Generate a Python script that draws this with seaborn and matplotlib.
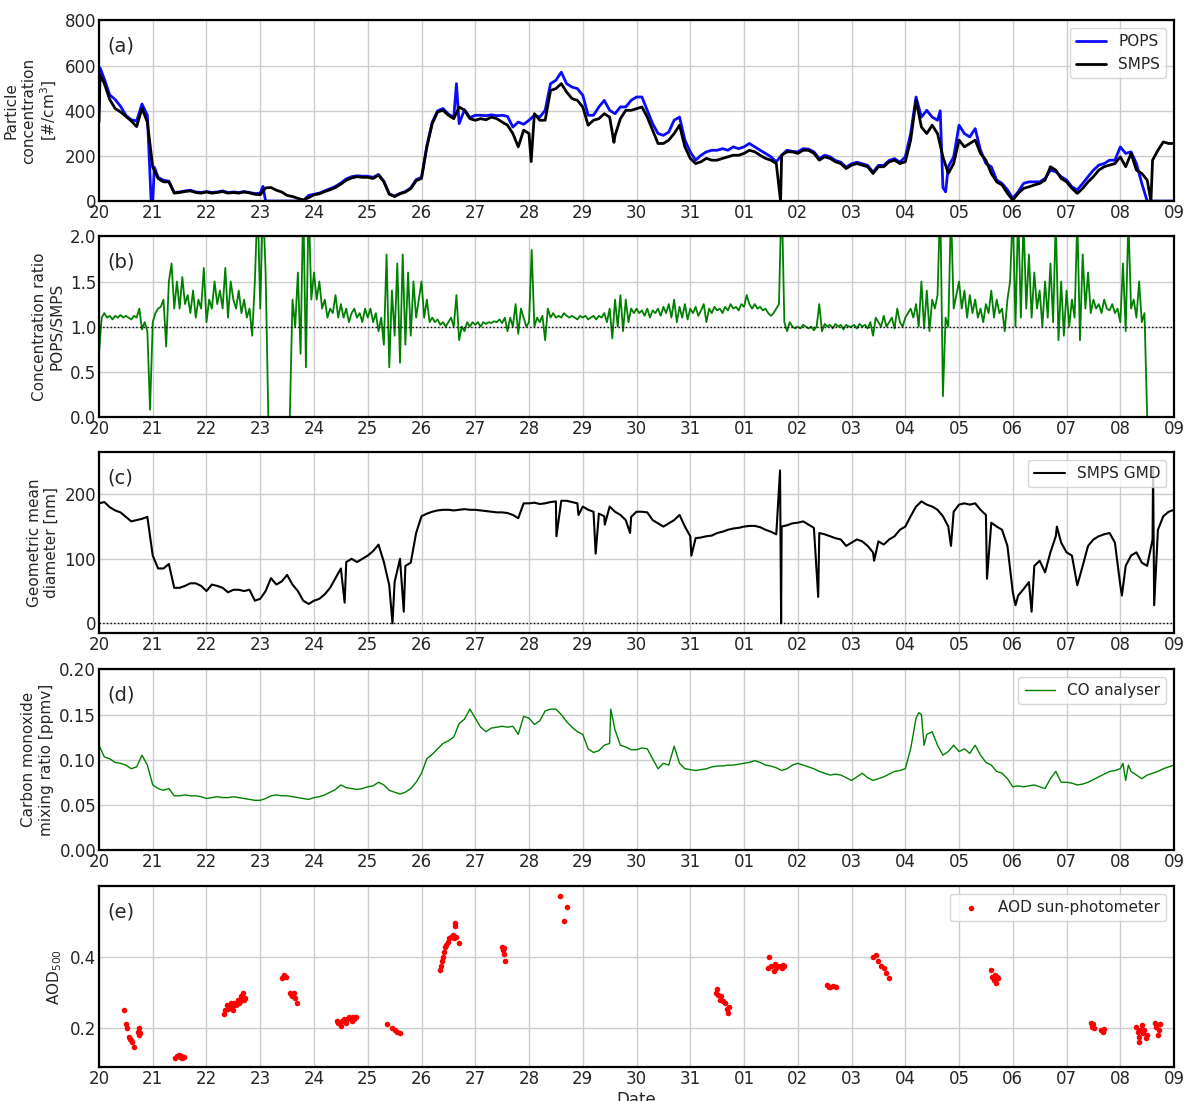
import numpy as np
import pandas as pd
import matplotlib
matplotlib.use("Agg")
import matplotlib.pyplot as plt
import matplotlib.dates as mdates
import seaborn as sns

start = pd.Timestamp("2019-08-20")

# (a) particle number concentration [#/cm3], one value every 0.1 day from 20 Aug
smps_conc = [
    350, 520, 450, 410, 395, 375, 355, 330, 410, 350,   # 20
    150, 100, 85, 85, 35, 38, 42, 45, 38, 35,           # 21
    40, 35, 38, 42, 35, 38, 35, 40, 36, 30,             # 22
    28, 58, 60, 48, 40, 25, 20, 12, 5, 15,              # 23
    28, 32, 42, 50, 60, 75, 92, 102, 108, 105,          # 24
    105, 100, 115, 85, 30, 20, 32, 40, 55, 90,          # 25
    100, 240, 343, 395, 402, 380, 365, 417, 402, 365,   # 26
    358, 365, 360, 372, 365, 350, 336, 299, 240, 314,   # 27
    299, 387, 358, 358, 490, 498, 520, 483, 454, 446,   # 28
    417, 336, 358, 365, 387, 372, 290, 365, 402, 402,   # 29
    409, 417, 372, 314, 255, 255, 270, 299, 336, 240,   # 30
    189, 166, 174, 189, 181, 181, 189, 196, 203, 203,   # 31
    211, 225, 218, 203, 189, 181, 166, 203, 218, 218,   # 01
    211, 225, 225, 211, 181, 196, 189, 174, 166, 144,   # 02
    159, 166, 159, 152, 122, 152, 152, 174, 181, 166,   # 03
    174, 270, 446, 328, 299, 336, 299, 196, 122, 166,   # 04
    270, 240, 255, 270, 211, 181, 122, 85, 71, 34,      # 05
    4, 34, 56, 63, 71, 78, 93, 152, 137, 100,           # 06
    85, 56, 34, 56, 85, 108, 137, 152, 159, 166,        # 07
    196, 152, 211, 137, 122, 93, 181, 225, 262, 255,    # 08
    255,
]
smps_spike_t = [0.02, 8.04, 9.58, 12.68, 19.57]
smps_spike_v = [560, 175, 260, 0, 0]

pops_conc = [
    400, 540, 470, 450, 420, 380, 360, 355, 430, 380,   # 20
    0, 105, 92, 88, 38, 40, 45, 48, 40, 38,             # 21
    42, 38, 40, 45, 38, 40, 38, 42, 38, 33,             # 22
    35, 0, 0, 0, 0, 0, 0, 0, 0, 25,                     # 23
    30, 35, 45, 55, 65, 80, 98, 108, 112, 110,          # 24
    110, 105, 118, 88, 32, 22, 34, 42, 58, 95,          # 25
    105, 245, 350, 400, 410, 385, 370, 343, 405, 370,   # 26
    380, 380, 378, 382, 378, 380, 375, 328, 350, 340,   # 27
    358, 380, 372, 402, 520, 535, 571, 520, 505, 498,   # 28
    469, 380, 380, 417, 446, 402, 387, 417, 417, 446,   # 29
    461, 461, 402, 343, 299, 291, 306, 358, 372, 270,   # 30
    218, 181, 203, 218, 225, 225, 232, 225, 240, 232,   # 31
    240, 255, 240, 225, 211, 196, 174, 203, 225, 220,   # 01
    218, 232, 230, 218, 188, 203, 196, 180, 172, 150,   # 02
    165, 172, 165, 158, 128, 158, 158, 180, 188, 172,   # 03
    196, 299, 461, 372, 402, 372, 358, 60, 152, 196,    # 04
    336, 299, 284, 321, 225, 166, 152, 93, 78, 50,      # 05
    12, 41, 78, 85, 85, 85, 100, 137, 130, 108,         # 06
    93, 63, 49, 78, 108, 137, 159, 166, 181, 181,       # 07
    240, 211, 218, 166, 78, 0, 0, 0, 0, 0,              # 08
    0,
]
pops_spike_t = [0.02, 0.97, 1.03, 3.05, 6.65, 15.65, 15.75]
pops_spike_v = [590, 0, 150, 65, 520, 400, 41]

# (b) POPS/SMPS ratio, one value every 0.05 day
ratio = [
    0.70, 1.10, 1.15, 1.10, 1.12, 1.08, 1.12, 1.10, 1.13, 1.10, 1.12, 1.10, 1.08, 1.12, 1.10, 1.20, 0.97, 1.05, 0.95, 0.08,  # 20
    1.05, 1.15, 1.20, 1.22, 1.30, 0.78, 1.50, 1.70, 1.20, 1.50, 1.20, 1.55, 1.25, 1.35, 1.15, 1.40, 1.10, 1.30, 1.20, 1.65,  # 21
    1.05, 1.30, 1.20, 1.50, 1.25, 1.40, 1.20, 1.65, 1.10, 1.50, 1.30, 1.20, 1.40, 1.15, 1.30, 1.10, 1.20, 0.90, 1.50, 2.40,  # 22
    1.20, 2.40, 1.60, 0.00, 0.00, 0.00, 0.00, 0.00, 0.00, 0.00, 0.00, 0.00, 1.30, 1.00, 1.60, 0.70, 2.40, 0.55, 2.40, 1.30,  # 23
    1.60, 1.30, 1.50, 1.20, 1.30, 1.10, 1.20, 1.15, 1.35, 1.10, 1.25, 1.10, 1.20, 1.05, 1.15, 1.20, 1.10, 1.15, 1.05, 1.20,  # 24
    1.10, 1.20, 1.05, 1.15, 0.95, 1.10, 0.80, 1.80, 0.55, 1.40, 0.90, 1.70, 0.60, 1.80, 0.80, 1.60, 0.90, 1.50, 1.10, 1.30,  # 25
    1.50, 1.10, 1.30, 1.05, 1.10, 1.05, 1.08, 1.02, 1.05, 1.00, 1.05, 1.10, 1.00, 1.35, 0.85, 1.00, 0.95, 1.05, 1.00, 1.05,  # 26
    1.02, 1.05, 1.00, 1.05, 1.03, 1.05, 1.04, 1.06, 1.05, 1.08, 1.04, 1.10, 0.95, 1.10, 1.00, 1.25, 0.92, 1.20, 1.10, 1.00,  # 27
    1.05, 1.85, 1.00, 1.10, 1.05, 1.12, 0.85, 1.20, 1.10, 1.15, 1.10, 1.12, 1.10, 1.15, 1.12, 1.10, 1.12, 1.10, 1.08, 1.12,  # 28
    1.10, 1.12, 1.08, 1.10, 1.12, 1.08, 1.12, 1.10, 1.15, 1.05, 1.20, 0.87, 1.30, 1.00, 1.35, 0.95, 1.30, 1.05, 1.20, 1.15,  # 29
    1.20, 1.15, 1.18, 1.12, 1.20, 1.10, 1.18, 1.15, 1.20, 1.12, 1.22, 1.15, 1.25, 1.10, 1.30, 1.05, 1.22, 1.10, 1.25, 1.08,  # 30
    1.20, 1.15, 1.22, 1.12, 1.18, 1.25, 1.05, 1.20, 1.15, 1.22, 1.18, 1.20, 1.15, 1.22, 1.18, 1.25, 1.20, 1.22, 1.18, 1.25,  # 31
    1.22, 1.35, 1.25, 1.20, 1.25, 1.20, 1.22, 1.18, 1.20, 1.15, 1.12, 1.15, 1.20, 1.25, 2.50, 1.05, 0.95, 1.05, 1.00, 0.98,  # 01
    1.00, 0.98, 1.02, 1.00, 0.98, 1.00, 0.96, 1.00, 1.25, 0.95, 1.03, 1.00, 1.02, 0.98, 1.03, 1.00, 1.02, 0.97, 1.02, 1.00,  # 02
    1.00, 1.02, 0.98, 1.03, 1.00, 1.02, 0.98, 1.05, 0.90, 1.10, 1.05, 1.00, 1.12, 1.00, 1.05, 1.10, 0.98, 1.20, 1.05, 1.00,  # 03
    1.10, 1.15, 1.20, 1.10, 1.25, 1.00, 1.50, 0.98, 1.40, 0.95, 1.30, 1.20, 1.35, 2.40, 0.23, 1.10, 1.00, 2.30, 1.20, 1.35,  # 04
    1.50, 1.20, 1.40, 1.10, 1.35, 1.15, 1.30, 1.10, 1.20, 1.05, 1.25, 1.15, 1.40, 1.10, 1.30, 1.15, 1.20, 0.95, 1.30, 1.50,  # 05
    2.30, 1.00, 2.30, 1.10, 2.20, 1.20, 1.80, 1.10, 1.60, 1.20, 1.40, 1.00, 1.50, 1.10, 1.70, 1.05, 2.20, 0.85, 1.50, 0.90,  # 06
    1.40, 1.00, 1.30, 1.10, 2.20, 0.85, 1.80, 1.20, 1.60, 1.15, 1.30, 1.20, 1.25, 1.15, 1.30, 1.20, 1.18, 1.25, 1.15, 1.20,  # 07
    1.05, 1.70, 0.95, 2.20, 1.20, 1.30, 1.10, 1.50, 1.05, 1.15, 0.00,                                                      # 08
]

# (c) SMPS geometric mean diameter [nm], every 0.1 day
gmd = [
    186, 188, 180, 175, 172, 165, 158, 160, 162, 165,   # 20
    105, 85, 85, 92, 55, 55, 58, 62, 62, 58,            # 21
    50, 60, 58, 55, 48, 52, 52, 50, 52, 35,             # 22
    38, 50, 70, 60, 65, 75, 60, 50, 35, 30,             # 23
    35, 38, 45, 55, 70, 85, 95, 100, 95, 100,           # 24
    105, 112, 122, 95, 59, 64, 100, 89, 94, 140,        # 25
    166, 170, 173, 175, 176, 176, 175, 176, 177, 176,   # 26
    176, 175, 174, 173, 172, 172, 171, 168, 163, 186,   # 27
    186, 187, 185, 186, 188, 189, 190, 190, 188, 186,   # 28
    181, 176, 173, 170, 166, 181, 173, 168, 160, 165,   # 29
    173, 173, 172, 160, 155, 150, 155, 160, 168, 150,   # 30
    135, 132, 133, 135, 136, 140, 142, 145, 147, 148,   # 31
    150, 151, 151, 149, 145, 142, 138, 150, 152, 155,   # 01
    156, 158, 153, 148, 140, 138, 135, 132, 130, 120,   # 02
    125, 130, 127, 120, 110, 127, 122, 130, 135, 145,   # 03
    150, 166, 181, 189, 184, 181, 176, 166, 150, 173,   # 04
    184, 186, 184, 186, 176, 168, 156, 150, 145, 120,   # 05
    48, 43, 53, 64, 89, 97, 79, 110, 135, 125,          # 06
    110, 105, 59, 89, 120, 130, 135, 138, 140, 125,     # 07
    59, 89, 105, 110, 94, 89, 130, 145, 166, 173,       # 08
    176,
]
gmd_spike_t = [4.57, 5.46, 5.67, 8.51, 8.92, 9.24, 9.41, 9.88, 11.02, 12.67, 12.69,
               13.38, 14.42, 15.85, 16.52, 17.05, 17.35, 17.82, 19.03, 19.61, 19.63]
gmd_spike_v = [32, 0, 18, 135, 168, 108, 153, 140, 105, 237, 0,
               41, 97, 120, 69, 28, 18, 150, 43, 240, 28]

# (d) CO mixing ratio [ppmv], every 0.1 day
co = [
    0.116, 0.103, 0.101, 0.097, 0.096, 0.094, 0.090, 0.092, 0.105, 0.094,  # 20
    0.072, 0.068, 0.066, 0.068, 0.060, 0.060, 0.061, 0.060, 0.060, 0.059,  # 21
    0.057, 0.058, 0.059, 0.058, 0.058, 0.059, 0.058, 0.057, 0.056, 0.055,  # 22
    0.055, 0.057, 0.060, 0.061, 0.060, 0.060, 0.059, 0.058, 0.057, 0.056,  # 23
    0.058, 0.059, 0.061, 0.064, 0.067, 0.072, 0.069, 0.068, 0.067, 0.068,  # 24
    0.070, 0.071, 0.075, 0.072, 0.066, 0.064, 0.062, 0.064, 0.068, 0.075,  # 25
    0.085, 0.101, 0.106, 0.112, 0.118, 0.121, 0.125, 0.140, 0.145, 0.156,  # 26
    0.146, 0.136, 0.131, 0.135, 0.136, 0.137, 0.136, 0.137, 0.128, 0.148,  # 27
    0.146, 0.139, 0.143, 0.154, 0.156, 0.156, 0.150, 0.142, 0.136, 0.131,  # 28
    0.128, 0.112, 0.108, 0.110, 0.116, 0.118, 0.133, 0.116, 0.114, 0.111,  # 29
    0.111, 0.113, 0.112, 0.101, 0.090, 0.096, 0.094, 0.115, 0.096, 0.090,  # 30
    0.089, 0.088, 0.089, 0.090, 0.092, 0.093, 0.093, 0.094, 0.094, 0.095,  # 31
    0.096, 0.097, 0.099, 0.097, 0.094, 0.093, 0.091, 0.088, 0.090, 0.094,  # 01
    0.096, 0.094, 0.092, 0.090, 0.087, 0.085, 0.083, 0.084, 0.083, 0.080,  # 02
    0.077, 0.081, 0.085, 0.080, 0.077, 0.079, 0.081, 0.084, 0.087, 0.088,  # 03
    0.090, 0.112, 0.146, 0.150, 0.128, 0.131, 0.116, 0.105, 0.109, 0.116,  # 04
    0.109, 0.112, 0.107, 0.116, 0.105, 0.097, 0.094, 0.087, 0.085, 0.079,  # 05
    0.070, 0.071, 0.070, 0.071, 0.072, 0.070, 0.068, 0.079, 0.087, 0.075,  # 06
    0.075, 0.074, 0.072, 0.073, 0.075, 0.078, 0.081, 0.084, 0.087, 0.088,  # 07
    0.090, 0.077, 0.087, 0.083, 0.079, 0.083, 0.085, 0.087, 0.090, 0.092,  # 08
    0.094,
]
co_spike_t = [9.52, 15.25, 15.35, 19.05, 19.15]
co_spike_v = [0.156, 0.152, 0.116, 0.096, 0.094]

# (e) AOD at 500 nm, time in days since 20 Aug
aod_t = [0.47, 0.50, 0.52, 0.55, 0.58, 0.60, 0.62, 0.65, 0.72, 0.74, 0.75, 0.76,
         1.42, 1.45, 1.48, 1.50, 1.52, 1.55, 1.58,
         2.32, 2.35, 2.38, 2.40, 2.42, 2.45, 2.48, 2.50, 2.52, 2.55, 2.58, 2.60, 2.62, 2.65, 2.68, 2.70, 2.72,
         3.40, 3.42, 3.45, 3.48, 3.55, 3.58, 3.60, 3.62, 3.65, 3.68,
         4.42, 4.45, 4.50, 4.52, 4.55, 4.60, 4.62, 4.65, 4.70, 4.72, 4.75, 4.78,
         5.35, 5.45, 5.50, 5.55, 5.60,
         6.35, 6.37, 6.38, 6.40, 6.42, 6.44, 6.46, 6.50, 6.52, 6.55, 6.58, 6.60, 6.62, 6.63, 6.65, 6.70,
         7.50, 7.52, 7.53, 7.54, 7.55,
         8.58, 8.65, 8.70,
         11.48, 11.50, 11.52, 11.55, 11.58, 11.60, 11.65, 11.68, 11.70, 11.72,
         12.45, 12.47, 12.50, 12.55, 12.57, 12.60, 12.65, 12.70, 12.72, 12.75,
         13.55, 13.58, 13.60, 13.65, 13.72,
         14.40, 14.45, 14.50, 14.55, 14.60, 14.65, 14.70,
         16.60, 16.62, 16.65, 16.67, 16.68, 16.70, 16.72,
         18.45, 18.48, 18.50, 18.52, 18.65, 18.68, 18.70,
         19.30, 19.32, 19.34, 19.35, 19.37, 19.40, 19.42, 19.45, 19.47, 19.50, 19.65, 19.67, 19.70, 19.72, 19.73]
aod_v = [0.251, 0.21, 0.20, 0.175, 0.17, 0.165, 0.16, 0.147, 0.19, 0.20, 0.18, 0.185,
         0.115, 0.12, 0.125, 0.118, 0.12, 0.115, 0.118,
         0.24, 0.25, 0.265, 0.255, 0.26, 0.27, 0.26, 0.25, 0.27, 0.265, 0.28, 0.27, 0.275, 0.29, 0.30, 0.28, 0.285,
         0.34, 0.345, 0.35, 0.345, 0.30, 0.295, 0.29, 0.30, 0.285, 0.27,
         0.22, 0.215, 0.205, 0.22, 0.225, 0.215, 0.225, 0.23, 0.22, 0.23, 0.225, 0.23,
         0.21, 0.20, 0.195, 0.19, 0.185,
         0.364, 0.374, 0.388, 0.402, 0.416, 0.43, 0.435, 0.444, 0.454, 0.458, 0.464, 0.454, 0.496, 0.487, 0.458, 0.44,
         0.43, 0.42, 0.41, 0.425, 0.39,
         0.574, 0.503, 0.542,
         0.30, 0.31, 0.293, 0.28, 0.29, 0.275, 0.27, 0.255, 0.242, 0.26,
         0.369, 0.40, 0.374, 0.36, 0.38, 0.37, 0.374, 0.37, 0.378, 0.374,
         0.322, 0.315, 0.317, 0.318, 0.317,
         0.40, 0.405, 0.388, 0.374, 0.37, 0.355, 0.34,
         0.364, 0.345, 0.336, 0.35, 0.328, 0.345, 0.34,
         0.213, 0.204, 0.21, 0.20, 0.194, 0.19, 0.196,
         0.204, 0.19, 0.175, 0.161, 0.195, 0.208, 0.185, 0.194, 0.171, 0.18, 0.213, 0.204, 0.18, 0.195, 0.21]


def series(step, values, extra_t=(), extra_v=()):
    t = list(np.arange(len(values)) * step) + list(extra_t)
    v = list(values) + list(extra_v)
    df = pd.DataFrame({"t": t, "v": v}).sort_values("t")
    df["time"] = start + pd.to_timedelta(df["t"], unit="D")
    return df


smps_df = series(0.1, smps_conc, smps_spike_t, smps_spike_v)
pops_df = series(0.1, pops_conc, pops_spike_t, pops_spike_v)
ratio_df = series(0.05, ratio)
gmd_df = series(0.1, gmd, gmd_spike_t, gmd_spike_v)
co_df = series(0.1, co, co_spike_t, co_spike_v)
aod_df = pd.DataFrame({"time": start + pd.to_timedelta(aod_t, unit="D"), "v": aod_v})

sns.set_style("whitegrid", {"axes.edgecolor": "black", "grid.color": "0.8"})
plt.rcParams["font.family"] = ["DejaVu Sans"]

fig = plt.figure(figsize=(11.84, 11.01), dpi=100)
left, width, height = 0.0836, 0.9080, 0.1640
bottoms = [0.8174, 0.6213, 0.4251, 0.2280, 0.0309]
axes = [fig.add_axes([left, b, width, height]) for b in bottoms]
ax_a, ax_b, ax_c, ax_d, ax_e = axes

kw = dict(estimator=None, sort=False)
sns.lineplot(data=pops_df, x="time", y="v", ax=ax_a, color="#0a0aff", lw=2, label="POPS", **kw)
sns.lineplot(data=smps_df, x="time", y="v", ax=ax_a, color="black", lw=2, label="SMPS", **kw)
ax_a.set_ylim(0, 800)
ax_a.set_yticks([0, 200, 400, 600, 800])
ax_a.set_ylabel("Particle\nconcentration\n[#/cm$^3$]")

sns.lineplot(data=ratio_df, x="time", y="v", ax=ax_b, color="green", lw=1.3, **kw)
ax_b.axhline(1.0, color="black", ls=":", lw=1)
ax_b.set_ylim(0, 2)
ax_b.set_yticks([0, 0.5, 1.0, 1.5, 2.0])
ax_b.set_yticklabels(["0.0", "0.5", "1.0", "1.5", "2.0"])
ax_b.set_ylabel("Concentration ratio\nPOPS/SMPS")

sns.lineplot(data=gmd_df, x="time", y="v", ax=ax_c, color="black", lw=1.5, label="SMPS GMD", **kw)
ax_c.axhline(0, color="black", ls=":", lw=1)
ax_c.set_ylim(-15, 265)
ax_c.set_yticks([0, 100, 200])
ax_c.set_ylabel("Geometric mean\ndiameter [nm]")

sns.lineplot(data=co_df, x="time", y="v", ax=ax_d, color="green", lw=1.0, label="CO analyser", **kw)
ax_d.set_ylim(0, 0.2)
ax_d.set_yticks([0, 0.05, 0.1, 0.15, 0.2])
ax_d.set_yticklabels(["0.00", "0.05", "0.10", "0.15", "0.20"])
ax_d.set_ylabel("Carbon monoxide\nmixing ratio [ppmv]")

sns.scatterplot(data=aod_df, x="time", y="v", ax=ax_e, color="red", s=16, linewidth=0,
                label="AOD sun-photometer")
ax_e.set_ylim(0.09, 0.60)
ax_e.set_yticks([0.2, 0.4])
ax_e.set_yticklabels(["0.2", "0.4"])
ax_e.set_ylabel("AOD$_{500}$")
ax_e.set_xlabel("Date", fontsize=12, labelpad=2)

for lab, ax in zip("abcde", axes):
    ax.set_xlim(start, start + pd.Timedelta(days=20))
    ax.xaxis.set_major_locator(mdates.DayLocator())
    ax.xaxis.set_major_formatter(mdates.DateFormatter("%d"))
    ax.tick_params(labelsize=12, pad=2, length=0)
    ax.yaxis.label.set_size(11)
    if ax is not ax_e:
        ax.set_xlabel("")
    for sp in ax.spines.values():
        sp.set_linewidth(1.6)
        sp.set_color("black")
    ax.grid(True, color="0.8", lw=1)
    ax.text(0.008, 0.86, f"({lab})", transform=ax.transAxes, fontsize=14, va="center")
    if ax.get_legend() is not None:
        ax.legend(loc="upper right", fontsize=11, framealpha=0.8)

fig.savefig("out.png", dpi=100)
